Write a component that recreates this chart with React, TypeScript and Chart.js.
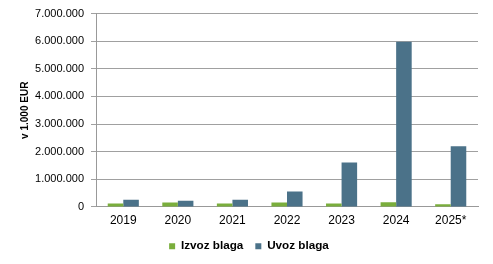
import React, { useEffect, useRef } from "react";
import { Chart, registerables } from "chart.js";
Chart.register(...registerables);

const categories = ["2019", "2020", "2021", "2022", "2023", "2024", "2025*"];
const izvoz = [125000, 160000, 125000, 160000, 125000, 170000, 100000];
const uvoz = [260000, 220000, 255000, 560000, 1610000, 5980000, 2200000];
const seriesNames = ["Izvoz blaga", "Uvoz blaga"];
const yTitle = "v 1.000 EUR";

const fmt = (v: number) => v.toLocaleString("de-DE");

// tighten the vertical space the legend reserves and centre it on the canvas
const LEGEND_TRIM = 7;
const LEGEND_DX = 10;
const legendTrim = {
  id: "legendTrim",
  beforeLayout(chart: any) {
    const lg = chart.legend;
    if (!lg || lg._trimmed) return;
    const fit = lg.fit.bind(lg);
    lg.fit = function () {
      fit();
      this.height -= LEGEND_TRIM;
    };
    const draw = lg.draw.bind(lg);
    lg.draw = function (...args: any[]) {
      const ctx = this.ctx;
      ctx.save();
      ctx.translate(LEGEND_DX, -LEGEND_TRIM);
      draw(...args);
      ctx.restore();
    };
    lg._trimmed = true;
  },
};

export default function App() {
  const ref = useRef<HTMLCanvasElement | null>(null);
  useEffect(() => {
    if (!ref.current) return;
    const chart = new Chart(ref.current, {
      type: "bar",
      data: {
        labels: categories,
        datasets: [
          { label: seriesNames[0], data: izvoz, backgroundColor: "#7aae3c", barPercentage: 1.0, categoryPercentage: 0.57 },
          { label: seriesNames[1], data: uvoz, backgroundColor: "#4b7289", barPercentage: 1.0, categoryPercentage: 0.57 },
        ],
      },
      plugins: [legendTrim],
      options: {
        animation: false,
        responsive: false,
        layout: { padding: { left: 0, right: 15, top: 11, bottom: 2 } },
        plugins: {
          legend: {
            position: "bottom",
            labels: {
              boxWidth: 6,
              boxHeight: 6,
              padding: 12,
              color: "#000",
              font: { family: "Liberation Sans", size: 11.7, weight: "bold" },
            },
          },
          tooltip: { enabled: false },
        },
        scales: {
          x: {
            grid: { display: false, drawTicks: false },
            border: { color: "#999", width: 1 },
            ticks: { color: "#000", padding: 7, font: { family: "Liberation Sans", size: 12 } },
          },
          y: {
            min: 0,
            max: 7000000,
            afterFit: (s: any) => { s.width = 96; },
            grid: { color: "#a0a0a0", lineWidth: 1, tickLength: 5 },
            border: { color: "#999", width: 1 },
            ticks: {
              stepSize: 1000000,
              color: "#000",
              padding: 7,
              font: { family: "Liberation Sans", size: 11 },
              callback: (v: any) => fmt(Number(v)),
            },
            title: {
              display: true,
              text: yTitle,
              color: "#000",
              padding: { top: 19, bottom: 0 },
              font: { family: "Liberation Sans", size: 10, weight: "bold" },
            },
          },
        },
      },
    });
    return () => chart.destroy();
  }, []);
  return (
    <div style={{ position: "absolute", left: 0, top: 0, width: 493, height: 264, background: "#fff" }}>
      <canvas ref={ref} width={493} height={264} />
    </div>
  );
}
